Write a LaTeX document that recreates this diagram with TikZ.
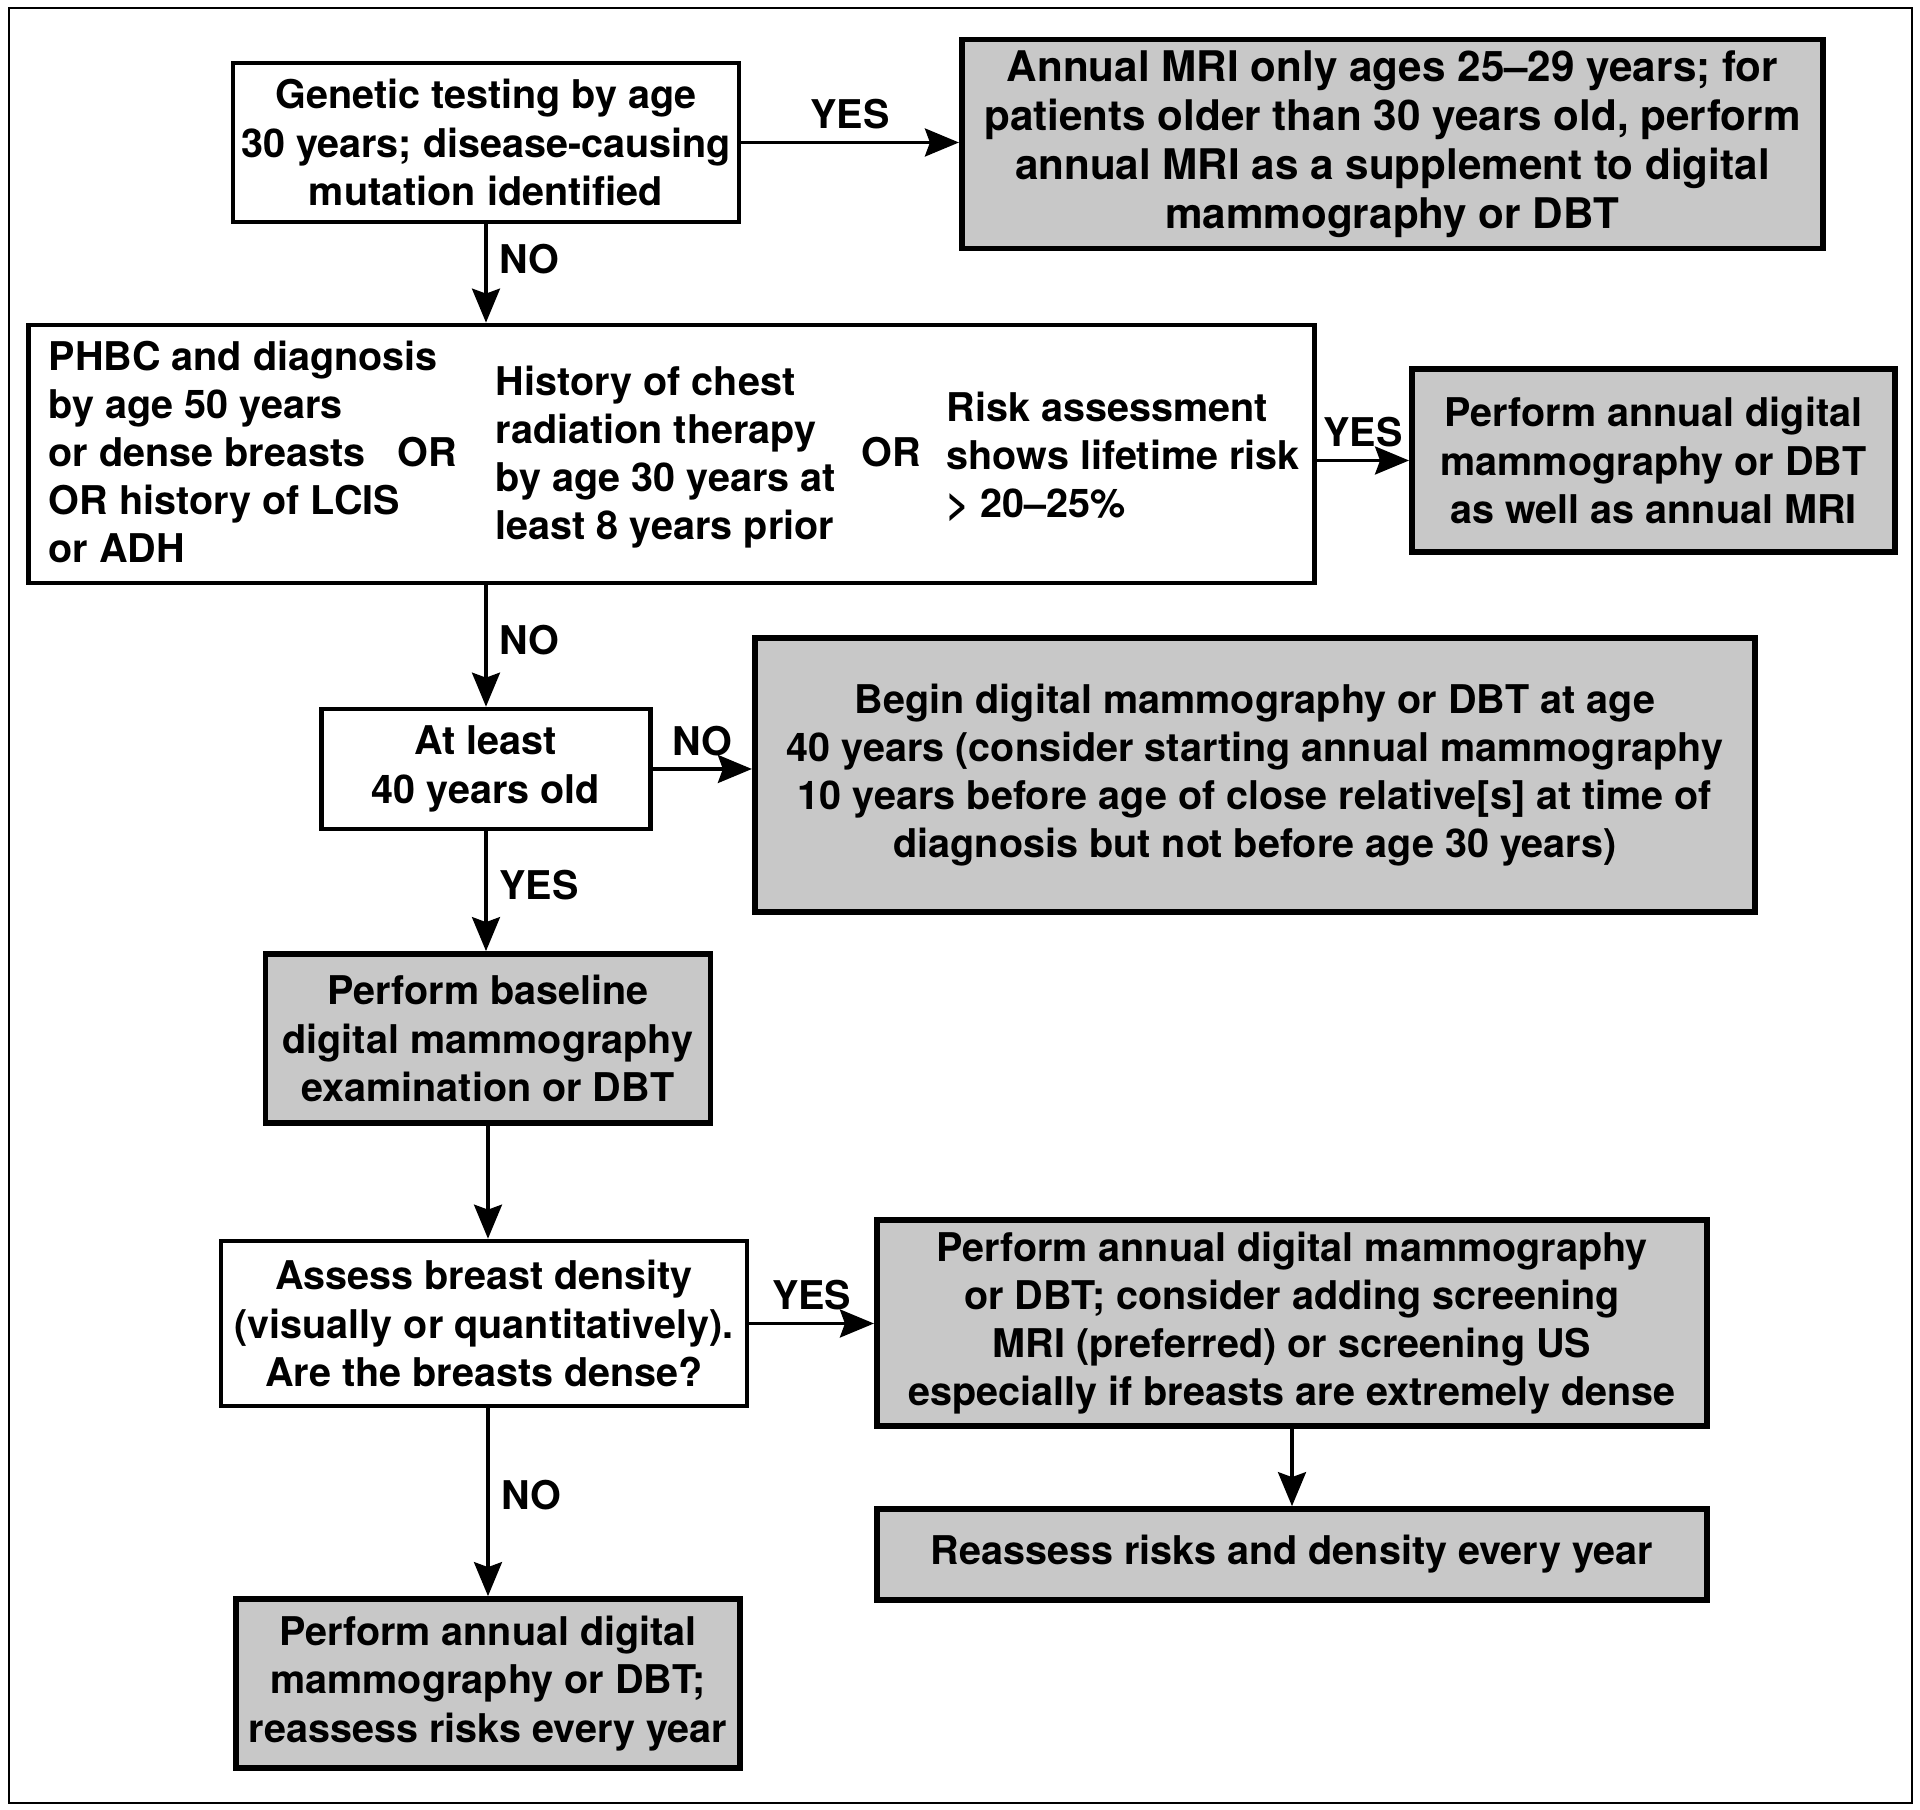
\documentclass[tikz,border=0pt]{standalone}
\usepackage{fontspec}
\setmainfont{TeX Gyre Heros}
\usetikzlibrary{arrows.meta}
\definecolor{boxgray}{RGB}{200,200,200}
\begin{document}
\begin{tikzpicture}[x=0.01cm,y=-0.01cm,
  every node/.style={font=\fontsize{11.25}{13.7}\selectfont\bfseries},
  qbox/.style={draw,line width=1.3pt,fill=white,align=center,inner sep=0pt},
  abox/.style={draw,line width=1.6pt,fill=boxgray,align=center,inner sep=0pt},
  txt/.style={inner sep=0pt,align=left},
  arr/.style={line width=0.9pt,-{Stealth[length=3.4mm,width=2.8mm,inset=0.5mm]}},
  lbl/.style={font=\fontsize{11.25}{13}\selectfont\bfseries}]
\useasboundingbox (0,0) rectangle (1920,1810);
\draw[line width=0.8pt] (9,8) rectangle (1912,1803);
% top row
\node[qbox,minimum width=5.06cm,minimum height=1.59cm] (gen) at (486,142.5)
  {Genetic testing by age\\30 years; disease-causing\\mutation identified};
\node[abox,minimum width=8.61cm,minimum height=2.09cm,font=\fontsize{12}{13.9}\selectfont\bfseries] (mri) at (1392.5,144)
  {Annual MRI only ages 25–29 years; for\\patients older than 30 years old, perform\\annual MRI as a supplement to digital\\mammography or DBT};
% risk factors
\node[qbox,minimum width=12.85cm,minimum height=2.58cm] (risk) at (671.5,454) {};
\node[txt,anchor=west] (fam) at (48,452)
  {PHBC and diagnosis\\by age 50 years\\or dense breasts\\OR history of LCIS\\or ADH};
\node[txt] (or1) at (427,452) {OR};
\node[txt,anchor=west] (chest) at (495,457)
  {History of chest\\radiation therapy\\by age 30 years at\\least 8 years prior};
\node[txt] (or2) at (891,452) {OR};
\node[txt,anchor=west] (life) at (946,457)
  {Risk assessment\\shows lifetime risk\\> 20–25\%};
\node[abox,minimum width=4.83cm,minimum height=1.83cm] (both) at (1653.5,460.5)
  {Perform annual digital\\mammography or DBT\\as well as annual MRI};
% age
\node[qbox,minimum width=3.29cm,minimum height=1.20cm] (age) at (486,769)
  {At least\\40 years old};
\node[abox,minimum width=10.0cm,minimum height=2.74cm] (early) at (1255,775)
  {Begin digital mammography or DBT at age\\40 years (consider starting annual mammography\\10 years before age of close relative[s] at time of\\diagnosis but not before age 30 years)};
\node[abox,minimum width=4.45cm,minimum height=1.69cm] (base) at (488,1038.5)
  {Perform baseline\\digital mammography\\examination or DBT};
% density
\node[qbox,minimum width=5.26cm,minimum height=1.65cm] (dens) at (484,1323.5)
  {Assess breast density\\(visually or quantitatively).\\Are the breasts dense?};
\node[abox,minimum width=8.30cm,minimum height=2.06cm] (extra) at (1292,1323)
  {Perform annual digital mammography\\or DBT; consider adding screening\\MRI (preferred) or screening US\\especially if breasts are extremely dense};
\node[abox,minimum width=8.30cm,minimum height=0.91cm] (yearly) at (1292,1554.5)
  {Reassess risks and density every year};
\node[abox,minimum width=5.04cm,minimum height=1.69cm] (routine) at (488,1683.5)
  {Perform annual digital\\mammography or DBT;\\reassess risks every year};
% connectors
\draw[arr] (gen.east) -- (gen.east -| mri.west) node[lbl,midway,above] {YES};
\draw[arr] (gen.south) -- (gen.south |- risk.north) node[lbl,pos=0.35,right] {NO};
\draw[arr] (both.west -| risk.east) -- (both.west) node[lbl,midway,above] {YES};
\draw[arr] (risk.south -| age.north) -- (age.north) node[lbl,pos=0.45,right] {NO};
\draw[arr] (age.east) -- (age.east -| early.west) node[lbl,midway,above] {NO};
\draw[arr] (age.south) -- (age.south |- base.north) node[lbl,pos=0.45,right] {YES};
\draw[arr] (base.south) -- (base.south |- dens.north);
\draw[arr] (dens.east) -- (dens.east -| extra.west) node[lbl,midway,above] {YES};
\draw[arr] (dens.south -| routine.north) -- (routine.north) node[lbl,pos=0.46,right] {NO};
\draw[arr] (extra.south) -- (yearly.north);
\end{tikzpicture}
\end{document}
